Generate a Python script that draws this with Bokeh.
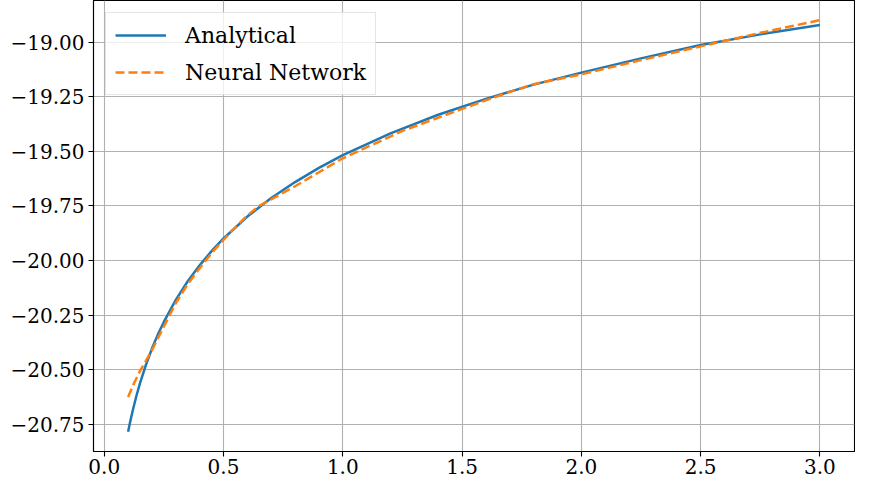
from bokeh.plotting import figure
from bokeh.models import Range1d, FixedTicker, Legend, LegendItem
from bokeh.embed import file_html
from bokeh.resources import INLINE

# Data
x_analytical = [0.10, 0.11, 0.12, 0.135, 0.15, 0.175, 0.20, 0.225, 0.25, 0.30, 0.35, 0.40,
                0.45, 0.50, 0.60, 0.70, 0.80, 0.90, 1.00, 1.20, 1.40, 1.60, 1.80, 2.00,
                2.25, 2.50, 2.75, 3.00]
y_analytical = [-20.784, -20.732, -20.684, -20.619, -20.561, -20.477, -20.403, -20.338,
                -20.281, -20.180, -20.095, -20.022, -19.957, -19.899, -19.799, -19.714,
                -19.641, -19.576, -19.518, -19.418, -19.333, -19.260, -19.195, -19.140,
                -19.075, -19.014, -18.965, -18.922]

x_network = [0.10, 0.125, 0.15, 0.175, 0.20, 0.25, 0.30, 0.35, 0.40, 0.45, 0.50, 0.55,
             0.60, 0.65, 0.70, 0.80, 0.90, 1.00, 1.25, 1.50, 1.70, 1.80, 2.00, 2.25,
             2.50, 2.75, 3.00]
y_network = [-20.625, -20.562, -20.505, -20.458, -20.410, -20.302, -20.195, -20.108,
             -20.035, -19.966, -19.905, -19.848, -19.793, -19.750, -19.720, -19.660,
             -19.596, -19.532, -19.407, -19.306, -19.228, -19.193, -19.148, -19.083,
             -19.020, -18.958, -18.900]

x_ticks = [0.0, 0.5, 1.0, 1.5, 2.0, 2.5, 3.0]
x_tick_labels = ["0.0", "0.5", "1.0", "1.5", "2.0", "2.5", "3.0"]
y_ticks = [-20.75, -20.50, -20.25, -20.00, -19.75, -19.50, -19.25, -19.00]
y_tick_labels = ["\u221220.75", "\u221220.50", "\u221220.25", "\u221220.00",
                 "\u221219.75", "\u221219.50", "\u221219.25", "\u221219.00"]

series_names = ["Analytical", "Neural Network"]
colors = ["#1f77b4", "#ff7f0e"]

FONT = "DejaVu Serif"

p = figure(width=855, height=482, output_backend="svg", toolbar_location=None,
           x_range=Range1d(-0.045, 3.145), y_range=Range1d(-20.874, -18.81),
           min_border_left=93, min_border_right=1, min_border_top=0, min_border_bottom=31)
p.background_fill_color = "white"
p.border_fill_color = "white"
p.outline_line_color = "black"
p.outline_line_width = 1.1

r1 = p.line(x_analytical, y_analytical, line_color=colors[0], line_width=2.5)
r2 = p.line(x_network, y_network, line_color=colors[1], line_width=2.5, line_dash="9 4")

for ax, ticks, labels in ((p.xaxis[0], x_ticks, x_tick_labels), (p.yaxis[0], y_ticks, y_tick_labels)):
    ax.ticker = FixedTicker(ticks=ticks)
    ax.major_label_overrides = dict(zip(ticks, labels))
    ax.major_label_text_font = FONT
    ax.major_label_text_font_size = "20px"
    ax.major_label_text_color = "black"
    ax.major_tick_out = 5
    ax.major_tick_in = 0
    ax.major_tick_line_color = "black"
    ax.major_tick_line_width = 1.1
    ax.minor_tick_line_color = None
    ax.axis_line_color = "black"
    ax.axis_line_width = 1.1
p.xaxis.major_label_standoff = 2
p.yaxis.major_label_standoff = 4

p.xgrid.ticker = FixedTicker(ticks=x_ticks)
p.ygrid.ticker = FixedTicker(ticks=y_ticks)
for g in (p.xgrid[0], p.ygrid[0]):
    g.grid_line_color = "#b0b0b0"
    g.grid_line_width = 1.1

legend = Legend(items=[LegendItem(label=series_names[0], renderers=[r1]),
                       LegendItem(label=series_names[1], renderers=[r2])],
                location="top_left")
legend.margin = 12
legend.padding = 9
legend.spacing = 11
legend.glyph_width = 51
legend.glyph_height = 26
legend.label_standoff = 19
legend.label_text_font = FONT
legend.label_text_font_size = "22px"
legend.label_text_color = "black"
legend.border_line_color = "#cccccc"
legend.border_line_width = 1
legend.background_fill_color = "white"
legend.background_fill_alpha = 0.8
p.add_layout(legend, "center")

open("out.html", "w").write(file_html(p, INLINE))
